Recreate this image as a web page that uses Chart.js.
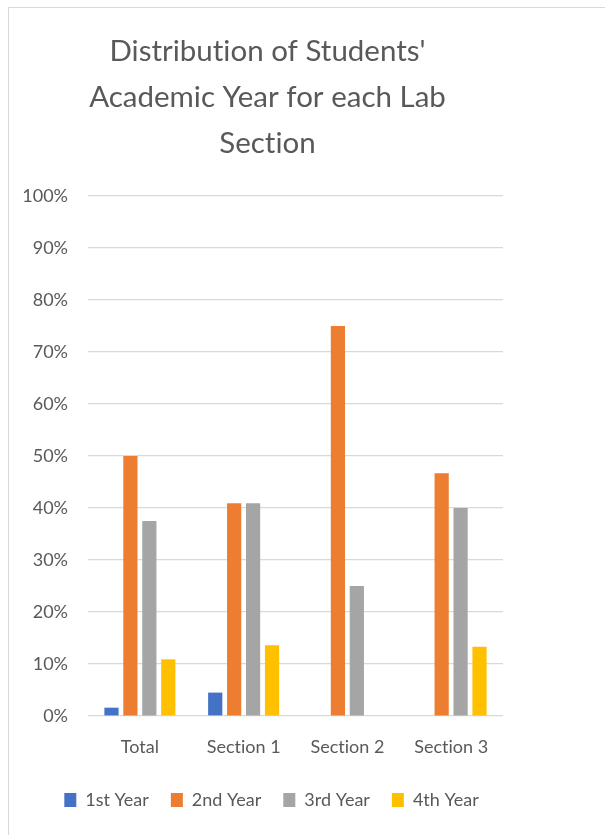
<!DOCTYPE html>
<html>
<head>
<meta charset="utf-8">
<script src="https://cdn.jsdelivr.net/npm/chart.js@4"></script>
<style>
  html, body { margin: 0; padding: 0; background: #fff; }
  .grafico { position: relative; width: 605px; height: 835px; }
  .borda { position: absolute; left: 8px; top: 7px; right: 0; bottom: 0; border-left: 1px solid #d9d9d9; border-top: 1px solid #d9d9d9; pointer-events: none; }
</style>
</head>
<body>
<div class="grafico">
  <canvas id="chartAnos" width="605" height="835"></canvas>
  <div class="borda"></div>
</div>
<script>
const categorias = ["Total", "Section 1", "Section 2", "Section 3"];
const primeiroAno = [1.6, 4.5, 0, 0];
const segundoAno = [50, 40.9, 75, 46.7];
const terceiroAno = [37.5, 40.9, 25, 40];
const quartoAno = [10.9, 13.6, 0, 13.3];
const nomesSeries = ["1st Year", "2nd Year", "3rd Year", "4th Year"];
const titulo = ["Distribution of Students'", "Academic Year for each Lab", "Section"];

const cores = ['#4472C4', '#ED7D31', '#A5A5A5', '#FFC000'];
const cinzaTexto = '#595959';
const fonte = "Lato, 'Open Sans', sans-serif";

const series = [primeiroAno, segundoAno, terceiroAno, quartoAno];

// o Excel centraliza título e legenda na área do gráfico, não na área de plotagem
const deslocaCaixas = {
  id: 'deslocaCaixas',
  afterLayout(chart) {
    chart.titleBlock.left += 16;
    chart.titleBlock.right += 16;
    chart.legend.left += 20;
    chart.legend.right += 20;
  },
  beforeDraw(chart) {
    // sem ligaduras "ti" do Lato
    chart.ctx.textRendering = 'optimizeSpeed';
  },
};

const graph = new Chart("chartAnos", {
  type: "bar",
  data: {
    labels: categorias,
    datasets: series.map((valores, i) => ({
      label: nomesSeries[i],
      data: valores,
      backgroundColor: cores[i],
      borderWidth: 0,
      categoryPercentage: 0.73,
      barPercentage: 0.75,
    })),
  },
  plugins: [deslocaCaixas],
  options: {
    responsive: false,
    animation: false,
    layout: {
      padding: { left: 0, right: 102, top: 28, bottom: 16 },
    },
    plugins: {
      tooltip: { enabled: false },
      title: {
        display: true,
        text: titulo,
        color: cinzaTexto,
        font: { family: fonte, size: 29.5, weight: 'normal', lineHeight: 1.56 },
        padding: { top: 0, bottom: 30 },
      },
      legend: {
        position: 'bottom',
        labels: {
          color: cinzaTexto,
          font: { family: fonte, size: 18 },
          boxWidth: 12,
          boxHeight: 14,
          padding: 22,
        },
      },
    },
    scales: {
      x: {
        afterFit: (scale) => { scale.height = 53; },
        grid: { display: false, drawTicks: false },
        border: { display: false },
        ticks: { color: cinzaTexto, font: { family: fonte, size: 18 }, padding: 20 },
      },
      y: {
        min: 0,
        max: 100,
        afterFit: (scale) => { scale.width = 88; },
        grid: { color: '#D9D9D9', lineWidth: 1.2, drawTicks: false },
        border: { display: false },
        ticks: {
          stepSize: 10,
          color: cinzaTexto,
          font: { family: fonte, size: 18 },
          padding: 20,
          callback: (v) => v + '%',
        },
      },
    },
  },
});
</script>
</body>
</html>
